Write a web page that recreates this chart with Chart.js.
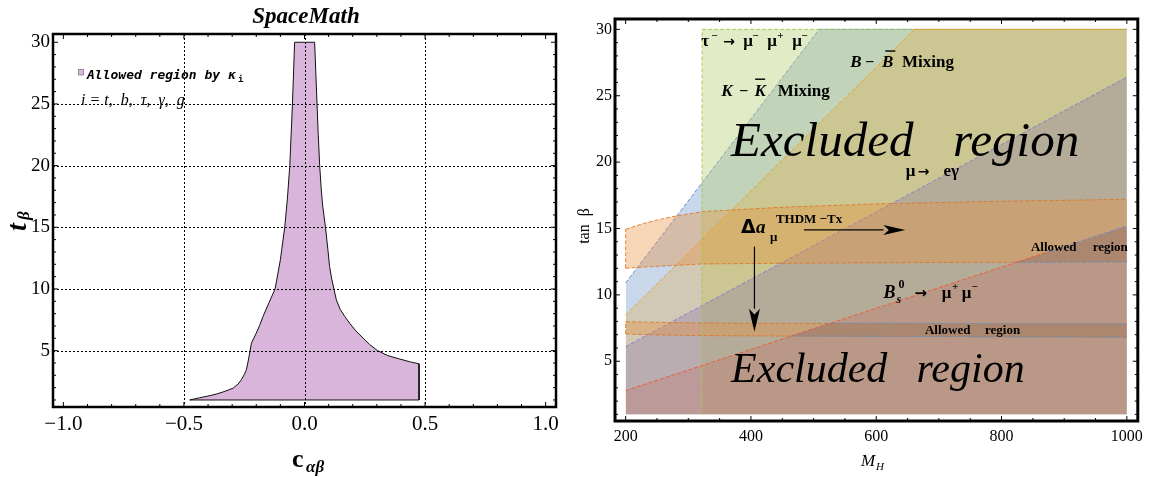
<!DOCTYPE html>
<html>
<head>
<meta charset="utf-8">
<script src="https://cdn.jsdelivr.net/npm/chart.js@4.4.0/dist/chart.umd.min.js"></script>
<style>
  html, body { margin: 0; padding: 0; background: #fff; }
  #wrap { position: relative; width: 1149px; height: 477px; overflow: hidden; }
  #left { position: absolute; left: 0; top: 0; width: 575px; height: 477px; }
  #right { position: absolute; left: 575px; top: 0; width: 574px; height: 477px; }
</style>
</head>
<body>
<div id="wrap">
  <div id="left"><canvas id="leftChart"></canvas></div>
  <div id="right"><canvas id="rightChart"></canvas></div>
</div>
<script>
// ---------- left panel data: allowed region in (c_ab, t_b) ----------
const cabTicks = [-1, -0.5, 0, 0.5, 1];
const tbTicks = [5, 10, 15, 20, 25, 30];
const cabGrid = [-0.5, 0, 0.5];
const tbGrid = [5, 10, 15, 20, 25];
// outline walked from the bottom-left tip, up the left edge, down the right edge
const allowedX = [-0.476, -0.435, -0.4, -0.365, -0.33, -0.296, -0.275, -0.262, -0.25, -0.241, -0.235, -0.23, -0.22,
  -0.2, -0.186, -0.172, -0.147, -0.122, -0.1, -0.082, -0.071, -0.061, -0.05, -0.041,
  0.042, 0.047, 0.052, 0.057, 0.063, 0.069, 0.075, 0.087, 0.097, 0.104, 0.113, 0.122, 0.132, 0.148,
  0.167, 0.187, 0.213, 0.243, 0.27, 0.302, 0.345, 0.395, 0.44, 0.475, 0.475, -0.476];
const allowedY = [1.0, 1.18, 1.32, 1.48, 1.7, 1.96, 2.3, 2.64, 3.05, 3.45, 4.0, 4.53, 5.61,
  6.42, 7.05, 7.77, 8.9, 10.0, 12.37, 15.0, 17.3, 20.0, 25.0, 30.0,
  30.0, 27.5, 25.0, 22.5, 20.0, 18.2, 16.8, 15.0, 13.2, 11.83, 10.8, 10.0, 9.12, 8.35,
  7.77, 7.23, 6.6, 6.02, 5.5, 5.01, 4.6, 4.32, 4.08, 3.93, 1.0, 1.0];

// ---------- right panel data: exclusion regions in (M_H, tan beta) ----------
const mhTicks = [200, 400, 600, 800, 1000];
const tanbTicks = [5, 10, 15, 20, 25, 30];
const regionFloor = 1;
const tauX = [322, 1000];          const tauY = [30, 30];
const kkX = [200, 509, 1000];      const kkY = [10.9, 30, 30];
const bbX = [200, 661, 1000];      const bbY = [8.49, 30, 30];
const megX = [200, 1000];          const megY = [6.1, 26.4];
const bsX = [200, 873, 1000];      const bsY = [2.79, 13.22, 15.19];
// Delta a_mu bands
const bandX = [200, 230, 270, 322, 450, 600, 800, 1000];
const amuHiTop = [14.94, 15.4, 15.85, 16.27, 16.6, 16.85, 17.05, 17.2];
const amuHiBot = [12.0, 12.1, 12.2, 12.33, 12.38, 12.42, 12.46, 12.5];
const amuLoTop = [7.98, 7.95, 7.92, 7.88, 7.85, 7.83, 7.82, 7.81];
const amuLoBot = [7.06, 7.01, 6.97, 6.93, 6.9, 6.87, 6.84, 6.81];
// allowed pieces: band inside the B_s region
const allowHiX = [823, 873, 1000]; const allowHiTop = [12.45, 13.22, 15.19]; const allowHiBot = [12.45, 12.46, 12.5];
const allowLoX = [465, 526, 1000]; const allowLoTop = [6.9, 7.87, 7.81];     const allowLoBot = [6.9, 6.89, 6.81];
// arrows of the Delta a_mu label
const arrowRightX = [484.6, 646.5]; const arrowRightY = [14.89, 14.89];
const arrowDownX = [405.6, 405.6];  const arrowDownY = [13.63, 7.23];

const SERIF = '"Liberation Serif", "DejaVu Serif", serif';
const SANS = '"DejaVu Sans"';
const fnt = (style, size, fam) => `${style} ${size}px ${fam || SERIF}`;

const pts = (xs, ys) => xs.map((x, i) => ({ x, y: ys[i] }));

// labels placed at data coordinates, pieces offset in px
const rightNotes = [
  { x: 320.6, y: 28.74, parts: [
    { t: "τ", dx: 0, f: fnt("bold", 17) }, { t: "−", dx: 10, dy: -7, f: fnt("bold", 11) },
    { t: "→", dx: 22, f: fnt("bold", 14, SANS) },
    { t: "μ", dx: 42, f: fnt("bold", 17) }, { t: "−", dx: 51, dy: -7, f: fnt("bold", 11) },
    { t: "μ", dx: 66, f: fnt("bold", 17) }, { t: "+", dx: 76, dy: -7, f: fnt("bold", 11) },
    { t: "μ", dx: 91, f: fnt("bold", 17) }, { t: "−", dx: 100, dy: -7, f: fnt("bold", 11) } ] },
  { x: 558.7, y: 27.14, parts: [
    { t: "B", dx: 0, f: fnt("bold italic", 17) }, { t: "−", dx: 15, f: fnt("bold", 16) },
    { t: "B", dx: 31.6, f: fnt("bold italic", 17) }, { bar: 10, dx: 35, dy: -17 },
    { t: "Mixing", dx: 51.6, f: fnt("bold", 17) } ] },
  { x: 352.4, y: 24.98, parts: [
    { t: "K", dx: 0, f: fnt("bold italic", 17) }, { t: "−", dx: 18, f: fnt("bold", 16) },
    { t: "K", dx: 33.3, f: fnt("bold italic", 17) }, { bar: 10, dx: 34, dy: -17.5 },
    { t: "Mixing", dx: 56.6, f: fnt("bold", 17) } ] },
  { x: 368.3, y: 20.46, parts: [{ t: "Excluded", dx: 0, f: fnt("italic", 49) }] },
  { x: 722.7, y: 20.46, parts: [{ t: "region", dx: 0, f: fnt("italic", 49) }] },
  { x: 647, y: 18.95, parts: [
    { t: "μ", dx: 0, f: fnt("bold", 17) }, { t: "→", dx: 12, f: fnt("bold", 14, SANS) },
    { t: "eγ", dx: 37.7, f: fnt("bold", 17) } ] },
  { x: 384, y: 14.65, parts: [
    { t: "Δ", dx: 0, f: fnt("bold", 19, SANS) }, { t: "a", dx: 15, f: fnt("bold italic", 19) },
    { t: "μ", dx: 29, dy: 8, f: fnt("bold", 13) }, { t: "THDM −Tx", dx: 35, dy: -10, f: fnt("bold", 13) } ] },
  { x: 847, y: 13.33, parts: [
    { t: "Allowed", dx: 0, f: fnt("bold", 13) }, { t: "region", dx: 61.7, f: fnt("bold", 13) } ] },
  { x: 611.6, y: 9.74, parts: [
    { t: "B", dx: 0, f: fnt("bold italic", 18) }, { t: "s", dx: 13, dy: 5, f: fnt("bold italic", 12) },
    { t: "0", dx: 15, dy: -10, f: fnt("bold", 12) }, { t: "→", dx: 31, f: fnt("bold", 15, SANS) },
    { t: "μ", dx: 58.3, f: fnt("bold", 17) }, { t: "+", dx: 68.5, dy: -8, f: fnt("bold", 11) },
    { t: "μ", dx: 78.3, f: fnt("bold", 17) }, { t: "−", dx: 88, dy: -8, f: fnt("bold", 11) } ] },
  { x: 677.8, y: 7.06, parts: [
    { t: "Allowed", dx: 0, f: fnt("bold", 13) }, { t: "region", dx: 60, f: fnt("bold", 13) } ] },
  { x: 368.3, y: 3.46, parts: [{ t: "Excluded", dx: 0, f: fnt("italic", 42) }] },
  { x: 664.4, y: 3.46, parts: [{ t: "region", dx: 0, f: fnt("italic", 42) }] }
];

function drawParts(ctx, px, py, parts) {
  parts.forEach((p) => {
    if (p.bar) {
      ctx.fillRect(px + p.dx, py + p.dy, p.bar, 1.4);
      return;
    }
    ctx.font = p.f;
    ctx.fillText(p.t, px + (p.dx || 0), py + (p.dy || 0));
  });
}

function drawArrow(ctx, x0, y0, x1, y1, head, half) {
  const ang = Math.atan2(y1 - y0, x1 - x0);
  const bx = x1 - head * Math.cos(ang), by = y1 - head * Math.sin(ang);
  ctx.beginPath();
  ctx.moveTo(x0, y0);
  ctx.lineTo(bx, by);
  ctx.stroke();
  ctx.beginPath();
  ctx.moveTo(x1, y1);
  ctx.lineTo(bx - half * Math.sin(ang), by + half * Math.cos(ang));
  ctx.lineTo(bx + head * 0.25 * Math.cos(ang), by + head * 0.25 * Math.sin(ang));
  ctx.lineTo(bx + half * Math.sin(ang), by - half * Math.cos(ang));
  ctx.closePath();
  ctx.fill();
}

const near = (a, b) => Math.abs(a - b) < 1e-6;

// Mathematica style frame: thick box, ticks inside on all four sides
function drawFrame(chart, cfg) {
  const { ctx, chartArea: a } = chart;
  const sx = chart.scales.x, sy = chart.scales.y;
  ctx.save();
  ctx.strokeStyle = "#000";
  ctx.lineWidth = 1;
  ctx.beginPath();
  for (let v = cfg.xFrom; v <= cfg.xTo + 1e-9; v += cfg.xStep) {
    const len = cfg.xMajor.some((m) => near(m, v)) ? cfg.major : cfg.minor;
    const p = sx.getPixelForValue(v);
    ctx.moveTo(p, a.bottom); ctx.lineTo(p, a.bottom - len);
    ctx.moveTo(p, a.top); ctx.lineTo(p, a.top + len);
  }
  for (let v = cfg.yFrom; v <= cfg.yTo + 1e-9; v += cfg.yStep) {
    const len = cfg.yMajor.some((m) => near(m, v)) ? cfg.major : cfg.minor;
    const p = sy.getPixelForValue(v);
    ctx.moveTo(a.left, p); ctx.lineTo(a.left + len, p);
    ctx.moveTo(a.right, p); ctx.lineTo(a.right - len, p);
  }
  ctx.stroke();
  ctx.lineWidth = cfg.width;
  ctx.strokeRect(a.left, a.top, a.right - a.left, a.bottom - a.top);
  ctx.restore();
}

// ---------- left chart ----------
const leftDecor = {
  id: "leftDecor",
  afterDatasetsDraw(chart) {
    const { ctx, chartArea: a } = chart;
    const sx = chart.scales.x, sy = chart.scales.y;
    ctx.save();
    ctx.strokeStyle = "#000";
    ctx.lineWidth = 1;
    ctx.setLineDash([2, 2]);
    ctx.beginPath();
    cabGrid.forEach((v) => { const p = Math.round(sx.getPixelForValue(v)) + 0.5; ctx.moveTo(p, a.top); ctx.lineTo(p, a.bottom); });
    tbGrid.forEach((v) => { const p = Math.round(sy.getPixelForValue(v)) + 0.5; ctx.moveTo(a.left, p); ctx.lineTo(a.right, p); });
    ctx.stroke();
    ctx.restore();
  },
  afterDraw(chart) {
    drawFrame(chart, { xFrom: -1, xTo: 1, xStep: 0.1, xMajor: cabTicks,
      yFrom: 1, yTo: 30, yStep: 1, yMajor: tbTicks, major: 5, minor: 3, width: 2.5 });
    const { ctx } = chart;
    ctx.save();
    ctx.fillStyle = "#000";
    ctx.textBaseline = "alphabetic";
    // title
    ctx.textAlign = "center";
    ctx.font = fnt("bold italic", 23);
    ctx.fillText("SpaceMath", 306, 23);
    ctx.textAlign = "left";
    // legend
    ctx.fillStyle = "rgb(218,181,219)";
    ctx.fillRect(78.5, 69.5, 5, 5.5);
    ctx.strokeStyle = "#8a7a8c";
    ctx.lineWidth = 0.8;
    ctx.strokeRect(78.5, 69.5, 5, 5.5);
    ctx.fillStyle = "#000";
    ctx.font = fnt("bold oblique", 13, '"DejaVu Sans Mono"');
    ctx.fillText("Allowed region by κ", 87, 79);
    ctx.font = fnt("bold", 9, '"DejaVu Sans Mono"');
    ctx.fillText("i", 238, 82);
    ctx.font = fnt("italic", 16);
    ctx.fillText("i = t,  b,  τ,  γ,  g", 81, 105);
    // x title
    ctx.font = fnt("bold", 26);
    ctx.fillText("c", 292, 467);
    ctx.font = fnt("bold italic", 17);
    ctx.fillText("αβ", 306, 472);
    // y title
    ctx.translate(26, 231);
    ctx.rotate(-Math.PI / 2);
    ctx.font = fnt("bold italic", 28);
    ctx.fillText("t", 0, 0);
    ctx.font = fnt("bold italic", 17);
    ctx.fillText("β", 11, 3);
    ctx.restore();
  }
};

new Chart(document.getElementById("leftChart"), {
  type: "line",
  data: {
    datasets: [{
      data: pts(allowedX, allowedY),
      fill: "shape",
      backgroundColor: "rgb(218,181,219)",
      borderColor: "#111",
      borderWidth: 1,
      pointRadius: 0,
      tension: 0
    }]
  },
  options: {
    responsive: true,
    maintainAspectRatio: false,
    animation: false,
    devicePixelRatio: 1,
    layout: { autoPadding: false, padding: { left: 0, top: 34, right: 19, bottom: 0 } },
    plugins: { legend: { display: false }, tooltip: { enabled: false } },
    scales: {
      x: {
        type: "linear", min: -1.043, max: 1.043,
        grid: { display: false, drawTicks: false }, border: { display: false },
        afterBuildTicks: (s) => { s.ticks = cabTicks.map((v) => ({ value: v })); },
        afterFit: (s) => { s.height = 70; },
        ticks: {
          padding: 5, color: "#000", font: { family: "Liberation Serif", size: 21 },
          callback: (v) => v.toFixed(1).replace("-", "−")
        }
      },
      y: {
        type: "linear", min: 0.43, max: 30.67,
        grid: { display: false, drawTicks: false }, border: { display: false },
        afterBuildTicks: (s) => { s.ticks = tbTicks.map((v) => ({ value: v })); },
        afterFit: (s) => { s.width = 53; },
        ticks: { padding: 3, color: "#000", font: { family: "Liberation Serif", size: 19 } }
      }
    }
  },
  plugins: [leftDecor]
});

// ---------- right chart ----------
const dash = [4, 2];
function region(xs, ys, bg, line, order) {
  return { data: pts(xs, ys), fill: { value: regionFloor }, backgroundColor: bg, borderColor: line,
    borderWidth: 1, borderDash: dash, pointRadius: 0, order };
}
function edge(xs, ys, line, order, fill, bg) {
  return { data: pts(xs, ys), fill: fill || false, backgroundColor: bg || "transparent", borderColor: line,
    borderWidth: 1, borderDash: dash, pointRadius: 0, order };
}
const bandFill = "rgba(232,140,55,0.36)";
const bandLine = "rgba(222,120,40,0.9)";
const grayFill = "rgba(105,110,125,0.32)";
const grayLine = "rgba(90,150,205,0.9)";

// B_s line: red up to where it leaves the band, blue-grey beyond
const bsLine = edge(bsX, bsY, "rgba(240,90,50,0.95)", 4);
bsLine.segment = { borderColor: (c) => (c.p0.parsed.x >= 872 ? "rgba(110,140,200,0.9)" : undefined) };

const rightDecor = {
  id: "rightDecor",
  afterDraw(chart) {
    drawFrame(chart, { xFrom: 200, xTo: 1000, xStep: 50, xMajor: mhTicks,
      yFrom: 1, yTo: 30, yStep: 1, yMajor: tanbTicks, major: 5, minor: 3, width: 3 });
    const { ctx } = chart;
    const sx = chart.scales.x, sy = chart.scales.y;
    ctx.save();
    ctx.fillStyle = "#000";
    ctx.strokeStyle = "#000";
    ctx.textAlign = "left";
    ctx.textBaseline = "alphabetic";
    rightNotes.forEach((n) => drawParts(ctx, sx.getPixelForValue(n.x), sy.getPixelForValue(n.y), n.parts));
    ctx.lineWidth = 1.2;
    drawArrow(ctx, sx.getPixelForValue(arrowRightX[0]), sy.getPixelForValue(arrowRightY[0]),
      sx.getPixelForValue(arrowRightX[1]), sy.getPixelForValue(arrowRightY[1]), 22, 5);
    drawArrow(ctx, sx.getPixelForValue(arrowDownX[0]), sy.getPixelForValue(arrowDownY[0]),
      sx.getPixelForValue(arrowDownX[1]), sy.getPixelForValue(arrowDownY[1]), 23, 5.5);
    // axis titles
    ctx.font = fnt("italic", 17);
    ctx.fillText("M", 286, 466);
    ctx.font = fnt("italic", 11);
    ctx.fillText("H", 301, 470);
    ctx.translate(14, 226);
    ctx.rotate(-Math.PI / 2);
    ctx.textAlign = "center";
    ctx.font = fnt("normal", 16);
    ctx.fillText("tan  β", 0, 0);
    ctx.restore();
  }
};

new Chart(document.getElementById("rightChart"), {
  type: "line",
  data: {
    datasets: [
      region(kkX, kkY, "rgba(100,140,195,0.35)", "rgba(90,130,210,0.9)", 20),
      region(tauX, tauY, "rgba(180,205,110,0.4)", "rgba(165,195,80,0.9)", 19),
      region(bbX, bbY, "rgba(230,170,60,0.3)", "rgba(238,160,40,0.95)", 18),
      region(megX, megY, "rgba(130,110,170,0.3)", "rgba(130,120,215,0.9)", 17),
      region([bsX[0], bsX[2]], [bsY[0], bsY[2]], "rgba(200,110,100,0.3)", "transparent", 16),
      edge(bandX, amuHiTop, bandLine, 15, "+1", bandFill),
      edge(bandX, amuHiBot, bandLine, 14),
      edge(bandX, amuLoTop, bandLine, 13, "+1", bandFill),
      edge(bandX, amuLoBot, bandLine, 12),
      edge(allowHiX, allowHiTop, "transparent", 11, "+1", grayFill),
      edge(allowHiX, allowHiBot, grayLine, 10),
      edge(allowLoX, allowLoTop, grayLine, 9, "+1", grayFill),
      edge(allowLoX, allowLoBot, grayLine, 8),
      edge([tauX[0], tauX[0]], [regionFloor, tauY[0]], "rgba(165,195,80,0.9)", 5),
      edge([bandX[0], bandX[0]], [amuHiBot[0], amuHiTop[0]], bandLine, 5),
      edge([bandX[0], bandX[0]], [amuLoBot[0], amuLoTop[0]], bandLine, 5),
      bsLine
    ]
  },
  options: {
    responsive: true,
    maintainAspectRatio: false,
    animation: false,
    devicePixelRatio: 1,
    layout: { autoPadding: false, padding: { left: 0, top: 19, right: 8, bottom: 0 } },
    plugins: { legend: { display: false }, tooltip: { enabled: false } },
    scales: {
      x: {
        type: "linear", min: 183, max: 1017.5,
        grid: { display: false, drawTicks: false }, border: { display: false },
        afterBuildTicks: (s) => { s.ticks = mhTicks.map((v) => ({ value: v })); },
        afterFit: (s) => { s.height = 56; },
        ticks: { padding: 6, color: "#000", font: { family: "Liberation Serif", size: 16 }, callback: (v) => String(v) }
      },
      y: {
        type: "linear", min: 0.5, max: 30.78,
        grid: { display: false, drawTicks: false }, border: { display: false },
        afterBuildTicks: (s) => { s.ticks = tanbTicks.map((v) => ({ value: v })); },
        afterFit: (s) => { s.width = 40; },
        ticks: { padding: 3, color: "#000", font: { family: "Liberation Serif", size: 16 } }
      }
    }
  },
  plugins: [rightDecor]
});
</script>
</body>
</html>
